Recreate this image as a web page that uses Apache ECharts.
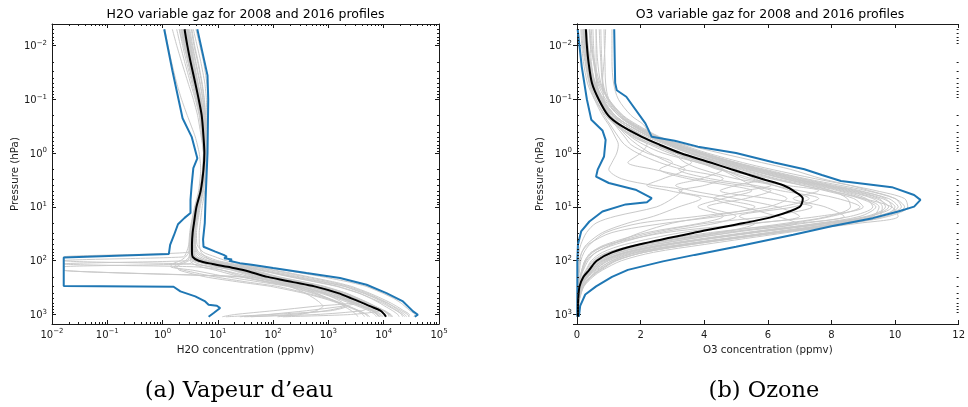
<!DOCTYPE html>
<html>
<head>
<meta charset="utf-8">
<script src="https://cdn.jsdelivr.net/npm/echarts@6/dist/echarts.min.js"></script>
<style>
  html, body { margin: 0; padding: 0; background: #fff; }
  #chart { width: 968px; height: 407px; }
</style>
</head>
<body>
<div id="chart"></div>
<script>
// ---------- H2O profiles (ppmv) on shared pressure levels (hPa) ----------
const pressureH2O = [0.005, 0.01, 0.02, 0.05, 0.1, 0.2, 0.5, 1, 2, 5, 10, 20, 30, 50, 70, 85, 100, 115, 130, 150, 200, 250, 300, 400, 500, 600, 700, 850, 1000, 1100];
const h2oMean = [2.5, 2.8, 3.2, 3.9, 4.5, 5.1, 5.5, 5.7, 5.5, 4.9, 4.1, 3.7, 3.5, 3.4, 3.4, 3.5, 4.5, 8, 15, 30, 80, 230, 560, 1500, 2600, 4000, 5650, 8700, 10300, 11000];
const h2oProfiles = [
  [3.6, 4.2, 4.9, 5.8, 6.2, 6.3, 6.3, 6.2, 6.0, 5.5, 4.8, 4.3, 4.1, 4.2, 5.5, 9, 14, 26, 60, 160, 800, 2400, 4800, 9500, 15000, 20000, 24000, 30000, 37000, 35000],
  [1.5, 1.8, 2.2, 2.9, 3.6, 4.3, 5.0, 5.5, 5.4, 4.8, 3.9, 3.4, 3.2, 3.1, 3.1, 3.3, 4.0, 6.5, 12, 24, 65, 190, 450, 1200, 2100, 3200, 4600, 7200, 9000, 9600],
  [2.2, 2.6, 3.0, 3.7, 4.4, 5.0, 5.4, 5.6, 5.4, 4.8, 4.0, 3.5, 3.3, 3.0, 2.7, 2.4, 0.0163, 0.0163, 4, 12, 40, 130, 330, 950, 1800, 2900, 4100, 6400, 7900, 8500],
  [2.9, 3.2, 3.6, 4.3, 4.9, 5.4, 5.7, 5.8, 5.6, 5.0, 4.2, 3.8, 3.6, 3.3, 2.9, 0.0163, 0.0163, 3.0, 8, 20, 70, 220, 600, 1700, 3000, 4800, 6800, 10000, 13000, 14000],
  [2.0, 2.4, 2.9, 3.6, 4.2, 4.9, 5.3, 5.6, 5.5, 4.9, 4.1, 3.6, 3.4, 3.3, 3.3, 3.4, 3.6, 3.0, 0.0163, 0.0163, 25, 90, 260, 800, 1600, 2600, 3800, 6000, 7500, 8000],
  [2.7, 3.0, 3.4, 4.1, 4.7, 5.3, 5.6, 5.8, 5.6, 5.0, 4.3, 3.9, 3.7, 3.5, 3.6, 3.5, 3.0, 2.2, 1.8, 2.0, 6, 25, 90, 350, 800, 1400, 2000, 900, 200, 40],
  [3.3, 3.7, 4.3, 5.1, 5.6, 5.9, 6.0, 6.0, 5.8, 5.2, 4.5, 4.0, 3.8, 3.9, 4.5, 6.5, 10, 20, 45, 110, 450, 1300, 2600, 5500, 9000, 13000, 17000, 23000, 29000, 28000],
  [2.3, 2.6, 3.0, 3.7, 4.3, 4.9, 5.4, 5.6, 5.4, 4.7, 3.9, 3.5, 3.3, 3.2, 3.1, 3.2, 3.4, 4.5, 7, 12, 30, 80, 200, 550, 1000, 1600, 2300, 3500, 4800, 5200],
  [2.5, 2.9, 3.3, 4.0, 4.6, 5.2, 5.5, 5.7, 5.5, 4.9, 4.1, 3.7, 3.5, 3.4, 3.5, 3.8, 5, 10, 19, 40, 110, 320, 750, 1900, 3100, 4600, 6000, 4000, 600, 30],
  [1.1, 1.25, 1.45, 1.8, 2.2, 2.8, 3.9, 4.6, 4.9, 4.5, 3.8, 3.3, 3.1, 3.0, 3.0, 3.2, 3.8, 6, 11, 23, 62, 170, 400, 1100, 2000, 3100, 4400, 6800, 8400, 9000],
  [2.8, 3.1, 3.5, 4.3, 5.0, 5.5, 5.8, 5.9, 5.7, 5.1, 4.4, 4.0, 3.8, 3.7, 3.7, 3.9, 5.5, 11, 22, 45, 130, 380, 850, 2100, 3500, 5200, 7000, 10500, 13500, 14500],
  [3.0, 3.4, 3.9, 4.7, 5.3, 5.7, 6.0, 6.1, 5.9, 5.3, 4.6, 4.1, 3.9, 3.8, 4.0, 4.8, 7, 14, 30, 75, 300, 900, 2000, 4500, 7500, 11000, 14500, 19000, 24000, 26000],
  [2.1, 2.5, 2.9, 3.6, 4.2, 4.8, 5.2, 5.5, 5.3, 4.7, 3.9, 3.4, 3.2, 3.1, 3.1, 3.0, 2.6, 1.9, 1.6, 2.4, 9, 35, 120, 400, 900, 1500, 2300, 3600, 5000, 5600],
  [2.6, 3.0, 3.4, 4.1, 4.7, 5.2, 5.6, 5.7, 5.5, 4.9, 4.1, 3.6, 3.4, 3.3, 3.2, 3.1, 2.8, 0.0163, 0.0163, 0.0163, 35, 110, 300, 900, 1700, 2700, 3900, 6200, 7800, 8300],
  [2.3, 2.7, 3.1, 3.8, 4.4, 5.0, 5.4, 5.7, 5.5, 4.9, 4.1, 3.6, 3.4, 3.3, 3.3, 3.4, 4.2, 7, 13, 26, 70, 210, 500, 1300, 2300, 3500, 1800, 400, 80, 25],
  [3.1, 3.5, 4.0, 4.8, 5.4, 5.8, 6.0, 6.0, 5.8, 5.2, 4.4, 3.9, 3.7, 3.6, 3.8, 4.3, 6, 12, 25, 55, 200, 600, 1400, 3500, 6000, 9000, 12000, 17000, 22000, 24000],
  [1.8, 2.1, 2.5, 3.2, 3.9, 4.6, 5.2, 5.5, 5.4, 4.8, 4.0, 3.5, 3.3, 3.2, 3.2, 3.3, 4.2, 8, 16, 35, 110, 330, 780, 2000, 3300, 4900, 6600, 9800, 12500, 13500],
  [2.6, 2.9, 3.3, 4.1, 4.8, 5.4, 5.7, 5.9, 5.7, 5.1, 4.3, 3.9, 3.6, 3.5, 3.6, 4.0, 6, 13, 28, 60, 220, 650, 1500, 3600, 5800, 8200, 10500, 14500, 18000, 19000],
  [2.4, 2.8, 3.2, 3.9, 4.5, 5.1, 5.5, 5.7, 5.5, 4.9, 4.1, 3.7, 3.5, 3.4, 3.4, 3.5, 4.3, 8, 15, 30, 85, 250, 600, 1600, 2700, 4100, 5600, 8500, 2500, 150],
  [2.9, 3.3, 3.7, 4.4, 5.0, 5.5, 5.8, 5.9, 5.7, 5.1, 4.3, 3.8, 3.6, 3.5, 3.4, 3.3, 3.2, 3.6, 5, 9, 26, 80, 220, 700, 1400, 2300, 3400, 5400, 6900, 7400],
  [2.0, 2.3, 2.7, 3.4, 4.0, 4.7, 5.2, 5.5, 5.4, 4.8, 4.0, 3.6, 3.4, 3.3, 3.3, 3.4, 3.9, 6, 10, 18, 45, 120, 260, 600, 1000, 1500, 1900, 2600, 3200, 3400],
  [2.7, 3.1, 3.5, 4.2, 4.8, 5.3, 5.6, 5.8, 5.6, 5.0, 4.2, 3.7, 3.5, 3.4, 3.4, 3.6, 4.4, 7, 12, 22, 50, 110, 200, 380, 550, 700, 800, 600, 300, 120],
  [3.4, 3.8, 4.4, 5.2, 5.7, 6.0, 6.1, 6.1, 5.9, 5.3, 4.6, 4.1, 3.9, 3.9, 4.2, 5.5, 8.5, 17, 38, 95, 380, 1100, 2300, 5000, 8000, 11500, 15000, 21000, 27000, 29000],
  [2.2, 2.5, 2.9, 3.6, 4.3, 4.9, 5.4, 5.6, 5.4, 4.8, 4.0, 3.5, 3.3, 3.2, 3.2, 3.3, 3.8, 6.5, 12, 25, 70, 200, 470, 1200, 2000, 2800, 600, 100, 20, 12],
  [2.5, 2.8, 3.2, 3.9, 4.5, 5.1, 5.5, 5.7, 5.5, 4.9, 4.1, 3.7, 3.5, 3.3, 3.0, 2.6, 2.1, 1.5, 1.4, 3.5, 15, 60, 180, 500, 950, 1500, 2100, 3300, 4200, 4500],
  [4.0, 4.7, 5.5, 6.3, 6.6, 6.6, 6.5, 6.4, 6.2, 5.8, 5.2, 4.8, 4.6, 4.6, 5.0, 6.0, 8, 14, 27, 60, 250, 800, 1900, 4200, 7000, 10000, 13000, 17500, 21000, 22000],
  [2.2, 2.5, 2.9, 3.6, 4.2, 4.8, 5.3, 5.6, 5.5, 4.9, 4.1, 3.6, 3.4, 3.3, 3.3, 3.4, 4.6, 9, 18, 38, 120, 350, 800, 2000, 3400, 5000, 6800, 10000, 12000, 12500],
  [2.8, 3.2, 3.6, 4.3, 4.9, 5.4, 5.7, 5.8, 5.6, 5.0, 4.2, 3.7, 3.5, 3.4, 3.4, 3.5, 4.0, 6.5, 11, 20, 55, 150, 330, 800, 1300, 1800, 2200, 1100, 90, 14]
];
// H2O envelopes (each with its own pressure list)
const h2oMaxPressure = [0.005, 0.036, 0.1, 1, 7, 20, 40, 55, 68, 78, 84, 90, 95, 100, 111, 119, 137, 170, 210, 280, 400, 571, 875, 1010, 1100];
const h2oMaxValue = [4.25, 6.5, 6.7, 6.5, 6.0, 5.8, 5.4, 5.5, 9, 12.7, 14.5, 13, 18, 16, 25, 41, 100, 400, 1620, 4900, 11200, 22300, 34000, 41500, 36500];
const h2oMinPressure = [0.005, 0.029, 0.226, 0.5, 1.25, 1.9, 3.9, 7.4, 13, 16, 21, 34, 51, 75, 87, 295, 305, 372, 461, 571, 658, 687, 759, 938, 1100];
const h2oMinValue = [1.07, 1.5, 2.3, 3.36, 4.25, 3.6, 3.36, 3.2, 3.2, 2.5, 1.9, 1.6, 1.37, 1.3, 0.0163, 0.0163, 1.58, 2.1, 3.9, 5.9, 6.8, 9.6, 11, 8.4, 6.8];

// ---------- O3 profiles (ppmv) on shared pressure levels (hPa) ----------
const pressureO3 = [0.005, 0.01, 0.02, 0.05, 0.1, 0.2, 0.3, 0.5, 0.7, 1, 1.5, 2, 3, 4, 5, 7, 10, 15, 20, 30, 50, 70, 100, 150, 200, 300, 500, 700, 1000, 1100];
const o3Mean = [0.28, 0.31, 0.36, 0.47, 0.68, 0.98, 1.35, 2.04, 2.6, 3.25, 4.2, 4.85, 5.8, 6.5, 6.8, 7.1, 7.0, 6.2, 5.25, 3.7, 1.95, 1.1, 0.62, 0.38, 0.2, 0.08, 0.04, 0.03, 0.03, 0.03];
const o3Profiles = [
  [0.3, 0.34, 0.42, 0.58, 0.85, 1.3, 1.75, 2.45, 3.1, 3.9, 4.9, 5.7, 7.0, 8.0, 8.8, 9.8, 10.1, 9.4, 8.0, 5.6, 2.9, 1.6, 0.9, 0.5, 0.3, 0.12, 0.06, 0.04, 0.03, 0.03],
  [0.26, 0.3, 0.38, 0.52, 0.78, 1.15, 1.6, 2.3, 2.9, 3.6, 4.6, 5.4, 6.6, 7.6, 8.3, 9.1, 9.3, 8.6, 7.2, 4.9, 2.4, 1.3, 0.7, 0.42, 0.24, 0.1, 0.05, 0.04, 0.03, 0.03],
  [0.4, 0.46, 0.55, 0.72, 1.0, 1.45, 1.9, 2.6, 3.3, 4.1, 5.2, 6.1, 7.5, 8.6, 9.4, 10.3, 10.4, 9.8, 8.6, 6.3, 3.4, 1.9, 1.1, 0.6, 0.35, 0.14, 0.06, 0.05, 0.04, 0.04],
  [0.22, 0.26, 0.33, 0.5, 0.75, 1.2, 1.6, 2.35, 3.0, 3.8, 4.8, 5.6, 6.8, 7.8, 8.6, 9.5, 9.7, 9.1, 7.7, 5.3, 2.7, 1.5, 0.8, 0.45, 0.27, 0.11, 0.05, 0.04, 0.03, 0.03],
  [0.6, 0.62, 0.65, 0.75, 1.0, 1.4, 1.8, 2.5, 3.1, 3.8, 4.7, 5.4, 6.5, 7.4, 8.0, 8.5, 8.6, 7.9, 6.6, 4.4, 2.1, 1.1, 0.6, 0.36, 0.2, 0.08, 0.04, 0.03, 0.03, 0.03],
  [1.1, 1.1, 1.1, 1.15, 1.3, 1.7, 2.1, 2.35, 3.4, 4.5, 5.8, 6.7, 7.7, 8.6, 9.2, 10.0, 10.2, 9.5, 8.2, 6.0, 3.3, 1.9, 1.1, 0.65, 0.4, 0.16, 0.07, 0.05, 0.04, 0.04],
  [0.2, 0.24, 0.3, 0.42, 0.6, 0.85, 1.05, 1.3, 1.5, 1.9, 2.6, 3.3, 4.6, 4.0, 3.2, 4.4, 5.6, 4.2, 3.0, 2.0, 1.1, 0.6, 0.35, 0.2, 0.12, 0.06, 0.04, 0.03, 0.03, 0.03],
  [0.25, 0.28, 0.33, 0.45, 0.65, 0.95, 1.25, 1.8, 2.2, 2.0, 1.6, 2.4, 3.8, 5.2, 6.1, 5.3, 4.1, 5.0, 4.4, 2.6, 1.2, 0.6, 0.3, 0.18, 0.1, 0.05, 0.03, 0.03, 0.02, 0.02],
  [0.15, 0.18, 0.25, 0.38, 0.55, 0.8, 1.0, 1.2, 1.3, 1.25, 1.1, 1.0, 1.4, 2.4, 3.3, 3.0, 2.5, 1.2, 0.6, 0.3, 0.12, 0.06, 0.04, 0.03, 0.02, 0.02, 0.02, 0.02, 0.02, 0.02],
  [0.3, 0.33, 0.4, 0.55, 0.8, 1.1, 1.5, 2.1, 2.6, 3.1, 3.6, 3.2, 4.2, 5.6, 6.4, 7.6, 6.8, 5.1, 5.6, 4.5, 2.2, 1.2, 0.65, 0.38, 0.22, 0.09, 0.05, 0.04, 0.03, 0.03],
  [0.28, 0.32, 0.38, 0.5, 0.72, 1.05, 1.4, 2.0, 2.5, 3.1, 3.9, 4.5, 5.1, 5.5, 5.9, 6.6, 6.0, 3.8, 2.0, 0.9, 0.4, 0.22, 0.12, 0.08, 0.06, 0.04, 0.03, 0.03, 0.02, 0.02],
  [0.45, 0.48, 0.52, 0.65, 0.9, 1.3, 1.7, 2.4, 3.0, 3.6, 4.4, 5.0, 5.6, 6.2, 7.0, 8.2, 8.9, 8.0, 6.8, 4.8, 2.5, 1.35, 0.75, 0.45, 0.26, 0.1, 0.05, 0.04, 0.03, 0.03],
  [0.2, 0.23, 0.3, 0.45, 0.7, 1.0, 1.3, 1.7, 2.1, 2.7, 3.8, 4.6, 3.9, 3.1, 3.6, 5.0, 6.3, 7.0, 5.7, 3.3, 1.5, 0.8, 0.45, 0.28, 0.16, 0.07, 0.04, 0.03, 0.03, 0.03],
  [0.27, 0.31, 0.38, 0.53, 0.8, 1.2, 1.6, 2.3, 2.9, 3.6, 4.5, 5.2, 6.3, 7.3, 8.0, 9.0, 9.9, 10.1, 8.9, 6.4, 3.6, 2.1, 1.2, 0.7, 0.45, 0.2, 0.08, 0.05, 0.04, 0.04],
  [0.18, 0.2, 0.27, 0.4, 0.6, 0.9, 1.2, 1.75, 2.3, 2.9, 3.8, 4.5, 5.5, 6.2, 6.7, 7.3, 6.4, 4.5, 2.8, 1.1, 0.35, 0.15, 0.08, 0.05, 0.04, 0.03, 0.02, 0.02, 0.02, 0.02],
  [0.75, 0.76, 0.78, 0.82, 0.98, 1.35, 1.8, 2.5, 3.2, 4.0, 5.0, 5.8, 7.1, 8.1, 8.9, 9.7, 9.9, 9.2, 7.9, 5.5, 2.8, 1.55, 0.85, 0.5, 0.3, 0.12, 0.06, 0.04, 0.03, 0.03],
  [0.3, 0.35, 0.42, 0.57, 0.82, 1.2, 1.6, 2.3, 2.9, 3.5, 4.4, 5.1, 6.2, 7.1, 7.8, 8.7, 9.0, 7.6, 5.6, 2.8, 1.0, 0.45, 0.25, 0.15, 0.1, 0.06, 0.04, 0.03, 0.03, 0.03],
  [0.22, 0.26, 0.32, 0.46, 0.68, 1.0, 1.35, 1.9, 2.4, 3.0, 3.4, 3.9, 5.0, 6.1, 5.3, 4.3, 5.2, 6.3, 6.9, 4.6, 2.0, 0.95, 0.5, 0.3, 0.18, 0.08, 0.04, 0.03, 0.03, 0.03],
  [0.38, 0.43, 0.52, 0.68, 0.98, 1.42, 1.85, 2.55, 3.2, 3.95, 4.95, 5.75, 6.9, 7.9, 8.7, 9.6, 10.0, 9.6, 8.4, 6.2, 3.3, 1.8, 1.0, 0.55, 0.32, 0.13, 0.06, 0.04, 0.04, 0.04],
  [0.25, 0.29, 0.36, 0.5, 0.74, 1.1, 1.5, 2.2, 2.8, 3.5, 4.5, 5.3, 6.5, 7.5, 8.2, 9.0, 9.5, 9.3, 8.3, 6.1, 3.5, 2.1, 1.25, 0.75, 0.45, 0.2, 0.08, 0.05, 0.04, 0.04],
  [0.7, 0.72, 0.75, 0.8, 0.95, 1.3, 1.7, 2.4, 3.0, 3.8, 4.8, 5.6, 6.8, 7.8, 8.5, 9.4, 9.8, 9.2, 7.9, 5.6, 3.0, 1.7, 0.95, 0.55, 0.32, 0.13, 0.06, 0.04, 0.03, 0.03],
  [0.9, 0.88, 0.85, 0.8, 0.85, 1.0, 1.2, 1.5, 1.7, 2.2, 3.0, 2.6, 3.5, 4.8, 5.5, 4.6, 3.8, 4.6, 3.9, 2.2, 0.9, 0.45, 0.25, 0.15, 0.1, 0.05, 0.03, 0.03, 0.02, 0.02],
  [0.5, 0.52, 0.55, 0.62, 0.8, 1.15, 1.5, 2.1, 2.6, 3.2, 4.0, 4.6, 5.3, 6.6, 7.6, 6.8, 7.8, 8.4, 7.0, 4.2, 1.9, 1.0, 0.55, 0.33, 0.2, 0.08, 0.04, 0.03, 0.03, 0.03],
  [0.12, 0.15, 0.2, 0.33, 0.55, 0.9, 1.25, 1.85, 2.4, 3.1, 4.1, 4.9, 6.1, 7.1, 7.9, 8.9, 9.4, 8.9, 7.6, 5.4, 2.8, 1.5, 0.8, 0.45, 0.27, 0.1, 0.05, 0.04, 0.03, 0.03],
  [0.6, 0.6, 0.6, 0.62, 0.75, 1.0, 1.25, 1.6, 1.9, 2.3, 2.9, 3.4, 2.7, 2.2, 2.9, 3.9, 3.2, 2.4, 1.6, 0.8, 0.3, 0.15, 0.08, 0.05, 0.04, 0.03, 0.02, 0.02, 0.02, 0.02],
  [0.85, 0.86, 0.88, 0.9, 1.0, 1.35, 1.75, 2.45, 3.1, 3.9, 5.0, 5.9, 7.2, 8.3, 9.1, 10.0, 10.3, 9.7, 8.5, 6.3, 3.6, 2.1, 1.2, 0.7, 0.42, 0.18, 0.07, 0.05, 0.04, 0.04],
  [0.4, 0.42, 0.45, 0.55, 0.75, 1.05, 1.4, 2.0, 2.5, 3.1, 3.9, 4.4, 5.9, 5.0, 4.5, 6.0, 7.4, 6.0, 4.1, 2.4, 1.0, 0.5, 0.28, 0.17, 0.1, 0.05, 0.03, 0.03, 0.02, 0.02],
  [0.3, 0.33, 0.4, 0.55, 0.8, 1.2, 1.6, 2.3, 2.9, 3.7, 4.7, 5.5, 6.7, 7.7, 8.4, 9.3, 9.6, 9.5, 8.6, 6.6, 4.0, 2.4, 1.4, 0.8, 0.5, 0.22, 0.09, 0.05, 0.04, 0.04]
];
// O3 envelopes
const o3MaxPressure = [0.005, 0.05, 0.068, 0.09, 0.28, 0.5, 0.59, 0.76, 1.0, 1.5, 2.0, 2.55, 3.3, 4.3, 6, 7.4, 9.9, 12.2, 16.2, 23, 33, 55, 78, 103, 148, 200, 300, 425, 690, 1100];
const o3MaxValue = [1.17, 1.2, 1.25, 1.55, 2.15, 2.35, 3.07, 3.8, 5.0, 6.2, 7.15, 7.7, 8.3, 9.9, 10.6, 10.8, 10.6, 10.1, 9.3, 8.0, 6.8, 5.0, 3.7, 2.7, 1.6, 1.1, 0.6, 0.26, 0.1, 0.06];
const o3MinPressure = [0.005, 0.025, 0.1, 0.24, 0.38, 0.57, 1.16, 2.03, 2.74, 3.6, 4.8, 6.9, 7.5, 8.2, 9.0, 12.2, 18.7, 28.6, 50, 100, 1100];
const o3MinValue = [0.02, 0.15, 0.31, 0.45, 0.8, 0.9, 0.85, 0.65, 0.6, 1.0, 1.84, 2.35, 2.38, 2.2, 1.53, 0.8, 0.39, 0.13, 0.03, 0.01, 0.01];

// ---------- axis settings ----------
const pressureRange = [0.004, 1500];
const h2oRange = [0.01, 1e5];
const o3Range = [0, 12];
const o3Interval = 2;
const minorMultipliers = [2, 3, 4, 5, 6, 7, 8, 9];

const FONT = '"DejaVu Sans", sans-serif';
const INK = '#1a1a1a';
const GRAY = '#c9c9c9';
const BLUE = '#1f77b4';

function pairs(values, pressures) {
  return values.map((v, i) => [v, pressures[i]]);
}

// "10" with a superscript exponent, only at whole decades
function decadeLabel(v) {
  const e = Math.log10(v);
  const r = Math.round(e);
  if (Math.abs(e - r) > 1e-6) return '';
  return '{b|10}{s|' + (r < 0 ? '\u2212' + (-r) : String(r)) + '}';
}
const decadeRich = {
  b: { fontFamily: FONT, fontSize: 10, color: INK, padding: [2, 0, 0, 0] },
  s: { fontFamily: FONT, fontSize: 7, color: INK, verticalAlign: 'top' }
};

const frameLine = { show: true, lineStyle: { color: INK, width: 1 } };
const majorTick = { show: true, inside: true, length: 4, lineStyle: { color: INK, width: 1 } };

function logAxis(gridIndex, range, extra) {
  return Object.assign({
    gridIndex: gridIndex, type: 'log', logBase: 10,
    min: range[0], max: range[1],
    axisLine: frameLine, axisTick: majorTick,
    splitLine: { show: false }, minorTick: { show: false }, minorSplitLine: { show: false },
    axisLabel: { show: false }
  }, extra);
}
function linAxis(gridIndex, extra) {
  return Object.assign({
    gridIndex: gridIndex, type: 'value',
    min: o3Range[0], max: o3Range[1], interval: o3Interval,
    axisLine: frameLine, axisTick: majorTick,
    splitLine: { show: false },
    axisLabel: { show: false }
  }, extra);
}
const nameStyle = { fontFamily: FONT, fontSize: 10.3, color: INK };

const xAxis = [
  logAxis(0, h2oRange, {
    position: 'bottom',
    axisLabel: { show: true, margin: 4, formatter: decadeLabel, rich: decadeRich, fontFamily: FONT, fontSize: 10, color: INK },
    name: 'H2O concentration (ppmv)', nameLocation: 'middle', nameGap: 20, nameTextStyle: nameStyle
  }),
  logAxis(0, h2oRange, { position: 'top' }),
  linAxis(1, {
    position: 'bottom',
    axisLabel: { show: true, margin: 6, fontFamily: FONT, fontSize: 10, color: INK },
    name: 'O3 concentration (ppmv)', nameLocation: 'middle', nameGap: 20, nameTextStyle: nameStyle
  }),
  linAxis(1, { position: 'top' })
];
const yLabel = { show: true, margin: 5, formatter: decadeLabel, rich: decadeRich, fontFamily: FONT, fontSize: 10, color: INK };
const yAxis = [
  logAxis(0, pressureRange, { inverse: true, position: 'left', axisLabel: yLabel,
    name: 'Pressure (hPa)', nameLocation: 'middle', nameGap: 32, nameTextStyle: nameStyle }),
  logAxis(0, pressureRange, { inverse: true, position: 'right' }),
  logAxis(1, pressureRange, { inverse: true, position: 'left', axisLabel: yLabel,
    name: 'Pressure (hPa)', nameLocation: 'middle', nameGap: 32, nameTextStyle: nameStyle }),
  logAxis(1, pressureRange, { inverse: true, position: 'right' })
];

// minor log ticks (2..9 x 10^n) strictly inside a range
function minorValues(range) {
  const out = [];
  const lo = Math.floor(Math.log10(range[0])), hi = Math.ceil(Math.log10(range[1]));
  for (let e = lo; e <= hi; e++) {
    minorMultipliers.forEach(m => {
      const v = m * Math.pow(10, e);
      if (v > range[0] * 1.0001 && v < range[1] * 0.9999) out.push(v);
    });
  }
  return out;
}
function tickLine(x1, y1, x2, y2) {
  return { type: 'line', shape: { x1, y1, x2, y2 }, style: { stroke: INK, lineWidth: 1 } };
}
// minor ticks along the bottom and top edges of a log x axis
function xMinorSeries(xi, yi, xRange) {
  return {
    type: 'custom', xAxisIndex: xi, yAxisIndex: yi, silent: true, z: 10, clip: false,
    data: minorValues(xRange).map(v => [v, 1]),
    renderItem: function (params, api) {
      const v = api.value(0);
      const x = Math.round(api.coord([v, 1])[0]) + 0.5;
      const yBottom = api.coord([v, pressureRange[1]])[1];
      const yTop = api.coord([v, pressureRange[0]])[1];
      return { type: 'group', children: [
        tickLine(x, yBottom, x, yBottom - 2),
        tickLine(x, yTop, x, yTop + 2)
      ] };
    }
  };
}
// minor ticks along the left and right edges of a log pressure axis
function yMinorSeries(xi, yi, xLeft, xRight, xMid) {
  return {
    type: 'custom', xAxisIndex: xi, yAxisIndex: yi, silent: true, z: 10, clip: false,
    data: minorValues(pressureRange).map(p => [xMid, p]),
    renderItem: function (params, api) {
      const p = api.value(1);
      const y = Math.round(api.coord([xMid, p])[1]) + 0.5;
      const xl = api.coord([xLeft, p])[0];
      const xr = api.coord([xRight, p])[0];
      return { type: 'group', children: [
        tickLine(xl, y, xl + 2, y),
        tickLine(xr, y, xr - 2, y)
      ] };
    }
  };
}

function line(data, xi, yi, color, width, smooth, z) {
  return {
    type: 'line', xAxisIndex: xi, yAxisIndex: yi, data: data,
    showSymbol: false, symbol: 'none', smooth: smooth, silent: true, z: z,
    lineStyle: { color: color, width: width }
  };
}

const series = [];
h2oProfiles.forEach(p => series.push(line(pairs(p, pressureH2O), 0, 0, GRAY, 1, 0.2, 2)));
series.push(line(pairs(h2oMaxValue, h2oMaxPressure), 0, 0, BLUE, 2, false, 3));
series.push(line(pairs(h2oMinValue, h2oMinPressure), 0, 0, BLUE, 2, false, 3));
series.push(line(pairs(h2oMean, pressureH2O), 0, 0, '#000', 2, 0.3, 4));
o3Profiles.forEach(p => series.push(line(pairs(p, pressureO3), 2, 2, GRAY, 1, 0.3, 2)));
series.push(line(pairs(o3MaxValue, o3MaxPressure), 2, 2, BLUE, 2, false, 3));
series.push(line(pairs(o3MinValue, o3MinPressure), 2, 2, BLUE, 2, false, 3));
series.push(line(pairs(o3Mean, pressureO3), 2, 2, '#000', 2, 0.3, 4));
series.push(xMinorSeries(0, 0, h2oRange));
series.push(yMinorSeries(0, 0, h2oRange[0], h2oRange[1], 1));
series.push(yMinorSeries(2, 2, o3Range[0], o3Range[1], 6));

function text(x, y, str, font) {
  return { type: 'text', x: x, y: y, silent: true,
    style: { text: str, font: font, fill: '#000', align: 'center', verticalAlign: 'middle' } };
}

const chart = echarts.init(document.getElementById('chart'), null, { renderer: 'canvas' });
chart.setOption({
  animation: false,
  backgroundColor: '#fff',
  grid: [
    { left: 52, top: 24, width: 387, height: 300 },
    { left: 577, top: 24, width: 386, height: 300 }
  ],
  xAxis: xAxis,
  yAxis: yAxis,
  series: series,
  graphic: [
    text(245.5, 15, 'H2O variable gaz for 2008 and 2016 profiles', '12.5px "DejaVu Sans"'),
    text(770, 15, 'O3 variable gaz for 2008 and 2016 profiles', '12.5px "DejaVu Sans"'),
    text(239, 391.5, '(a) Vapeur d\u2019eau', '22.5px "DejaVu Serif"'),
    text(764, 391.5, '(b) Ozone', '22.5px "DejaVu Serif"')
  ]
});
</script>
</body>
</html>
